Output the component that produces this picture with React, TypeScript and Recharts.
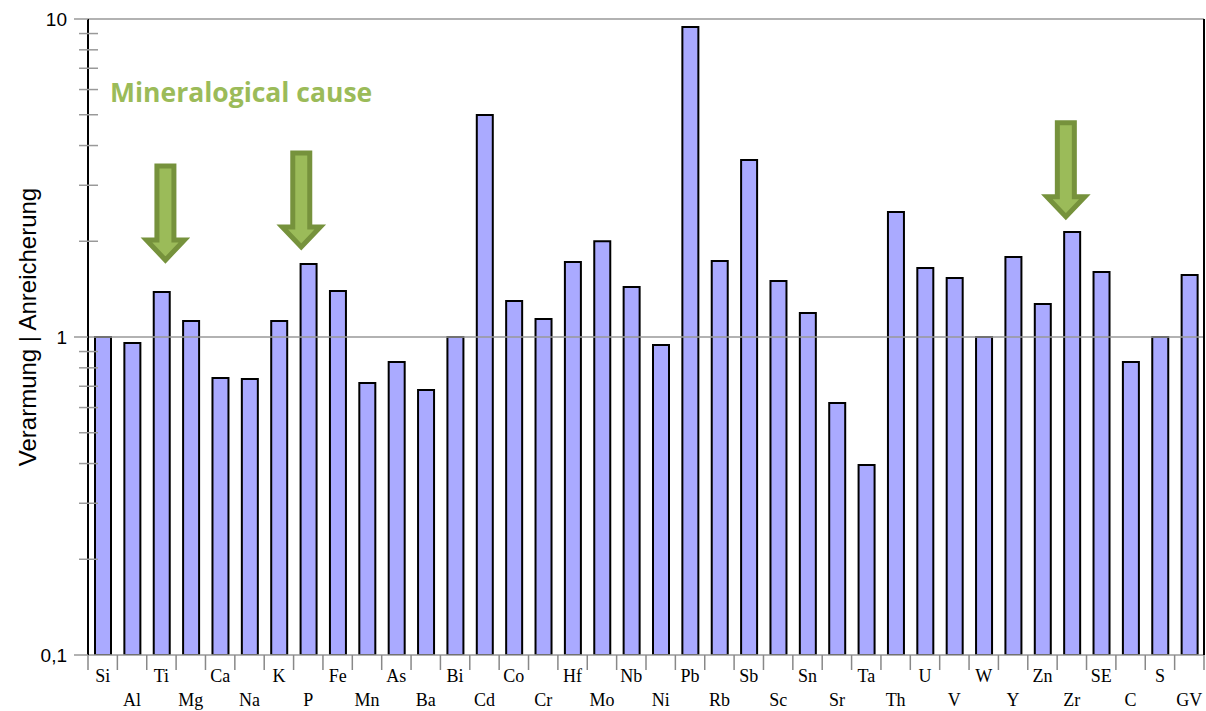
import React from 'react';
import { BarChart, Bar, XAxis, YAxis, ReferenceLine, ReferenceDot } from 'recharts';

const elements = [
  'Si', 'Al', 'Ti', 'Mg', 'Ca', 'Na', 'K', 'P', 'Fe', 'Mn', 'As', 'Ba', 'Bi',
  'Cd', 'Co', 'Cr', 'Hf', 'Mo', 'Nb', 'Ni', 'Pb', 'Rb', 'Sb', 'Sc', 'Sn', 'Sr',
  'Ta', 'Th', 'U', 'V', 'W', 'Y', 'Zn', 'Zr', 'SE', 'C', 'S', 'GV',
];

const ratios = [
  1.0, 0.957, 1.385, 1.123, 0.743, 0.738, 1.123, 1.696, 1.395, 0.717, 0.834, 0.681, 1.0,
  4.99, 1.298, 1.139, 1.72, 2.0, 1.436, 0.944, 9.44, 1.733, 3.6, 1.5, 1.19, 0.62,
  0.396, 2.47, 1.648, 1.533, 1.0, 1.785, 1.27, 2.14, 1.6, 0.834, 1.0, 1.566,
];

const majorTicks = [0.1, 1, 10];
const minorTicks = [0.2, 0.3, 0.4, 0.5, 0.6, 0.7, 0.8, 0.9, 2, 3, 4, 5, 6, 7, 8, 9];

// elements flagged with a "mineralogical cause" arrow, where the arrow tip sits,
// and a small horizontal nudge off the bar centre
const arrowMarks = [
  { el: 'Ti', tip: 1.746, dx: 4 },
  { el: 'P', tip: 1.92, dx: -7 },
  { el: 'Zr', tip: 2.39, dx: -6 },
];

const data = elements.map((el, i) => ({ el, value: ratios[i] }));

const W = 1206;
const H = 711;
const LEFT = 88;
const RIGHT_AXIS = 2;
const PLOT_W = W - LEFT - RIGHT_AXIS;
const STEP = PLOT_W / elements.length;

const fmt = (v: number) => String(v).replace('.', ',');

const YTick = (props: any) => {
  const { x, y, payload } = props;
  const v = payload.value;
  const major = majorTicks.includes(v);
  if (!major) {
    return <line x1={x - 9} x2={x + 10} y1={y} y2={y} stroke="#999" strokeWidth={1.5} />;
  }
  return (
    <g>
      <line x1={x - 14} x2={x} y1={y} y2={y} stroke="#999" strokeWidth={1.5} />
      <text x={x - 21} y={y + 7} textAnchor="end" fontFamily="Liberation Sans, Arial" fontSize={19} fill="#000">
        {fmt(v)}
      </text>
    </g>
  );
};

const XTick = (props: any) => {
  const { x, y, payload, index } = props;
  const last = index === elements.length - 1;
  const row = index % 2 === 0 ? 0 : 1;
  return (
    <g>
      <line x1={x - STEP / 2} x2={x - STEP / 2} y1={y - 8} y2={y + 7} stroke="#888" strokeWidth={1.5} />
      {last && <line x1={x + STEP / 2} x2={x + STEP / 2} y1={y - 8} y2={y + 7} stroke="#888" strokeWidth={1.5} />}
      <text x={x} y={y + 19 + row * 24} textAnchor="middle" fontFamily="Liberation Serif, Times New Roman" fontSize={18} fill="#000">
        {payload.value}
      </text>
    </g>
  );
};

const DownArrow = (props: any) => {
  const { cx, cy, shift } = props;
  const c = cx + shift;
  const pts = [
    [c - 8.5, cy - 94],
    [c + 8.5, cy - 94],
    [c + 8.5, cy - 20],
    [c + 19, cy - 20],
    [c, cy],
    [c - 19, cy - 20],
    [c - 8.5, cy - 20],
  ].map((p) => p.join(',')).join(' ');
  return <polygon points={pts} fill="#9BBB59" stroke="#76923C" strokeWidth={5} strokeLinejoin="miter" />;
};

export default function App() {
  return (
    <div style={{ position: 'absolute', left: 0, top: 0, width: W, height: H, background: '#fff' }}>
      <BarChart
        width={W}
        height={H}
        data={data}
        margin={{ top: 19, right: 0, bottom: 0, left: 0 }}
      >
        <XAxis
          dataKey="el"
          interval={0}
          tickLine={false}
          tick={<XTick />}
          axisLine={{ stroke: '#999', strokeWidth: 1.5 }}
          height={56}
        />
        <YAxis
          scale="log"
          domain={[0.1, 10]}
          ticks={[...majorTicks, ...minorTicks]}
          interval={0}
          allowDataOverflow
          width={LEFT}
          tickSize={0}
          tickMargin={0}
          tickLine={false}
          tick={<YTick />}
          axisLine={{ stroke: '#000', strokeWidth: 2 }}
          label={{
            value: 'Verarmung | Anreicherung',
            angle: -90,
            position: 'insideLeft',
            dx: 22,
            dy: -10,
            style: { fontFamily: 'Liberation Sans, Arial', fontSize: 24, fill: '#000', textAnchor: 'middle' },
          }}
        />
        <YAxis
          yAxisId="frame"
          orientation="right"
          width={RIGHT_AXIS}
          tick={false}
          tickLine={false}
          axisLine={{ stroke: '#000', strokeWidth: 2 }}
        />
        <ReferenceLine y={1} stroke="#999" strokeWidth={1.5} />
        <ReferenceLine y={10} stroke="#999" strokeWidth={1.5} />
        <Bar dataKey="value" barSize={16} fill="#AAAAFF" stroke="#000" strokeWidth={2} isAnimationActive={false} />
        {arrowMarks.map((a) => (
          <ReferenceDot key={a.el} x={a.el} y={a.tip} r={0} shape={<DownArrow shift={a.dx} />} />
        ))}
      </BarChart>
      <div
        style={{
          position: 'absolute',
          left: 110,
          top: 74,
          color: '#9BBB59',
          fontFamily: 'Open Sans, Lato, sans-serif',
          fontWeight: 700,
          fontSize: 26.5,
          lineHeight: '36px',
          whiteSpace: 'nowrap',
        }}
      >
        Mineralogical cause
      </div>
    </div>
  );
}
